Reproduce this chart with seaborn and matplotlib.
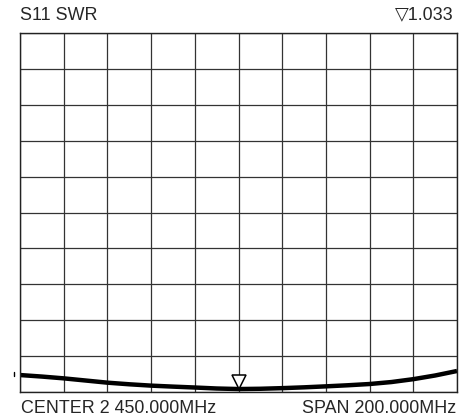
import numpy as np
import pandas as pd
import matplotlib
matplotlib.use("Agg")
import matplotlib.pyplot as plt
import matplotlib.transforms as mtransforms
import seaborn as sns

freq_mhz = [2350, 2360, 2370, 2380, 2390, 2400, 2410, 2420, 2430, 2440, 2450,
            2460, 2470, 2480, 2490, 2500, 2510, 2520, 2530, 2540, 2550]
swr = [1.189, 1.172, 1.152, 1.128, 1.104, 1.086, 1.071, 1.060, 1.050, 1.039, 1.033,
       1.036, 1.043, 1.052, 1.063, 1.075, 1.089, 1.111, 1.143, 1.184, 1.234]
marker_freq = 2450
marker_swr = 1.033
ref_level = 1.2

center_mhz = 2450
span_mhz = 200
y_min, y_max = 1.0, 5.0

sns.set_style("white")
plt.rcParams['font.family'] = ['Liberation Sans', 'DejaVu Sans']

df = pd.DataFrame({'freq': freq_mhz, 'swr': swr})

fig = plt.figure(figsize=(4.69, 4.20), dpi=100)
ax = fig.add_axes([20 / 469, 28 / 420, 437 / 469, 359 / 420])

sns.lineplot(data=df, x='freq', y='swr', ax=ax, color='black', linewidth=3.2,
             solid_capstyle='butt')

x0 = center_mhz - span_mhz / 2
x1 = center_mhz + span_mhz / 2
ax.set_xlim(x0, x1)
ax.set_ylim(y_min, y_max)
ax.set_xticks(np.linspace(x0, x1, 11))
ax.set_yticks(np.linspace(y_min, y_max, 11))
ax.tick_params(length=0, labelbottom=False, labelleft=False)
ax.set_xlabel('')
ax.set_ylabel('')
ax.grid(True, color='#333333', linewidth=0.9)
for s in ax.spines.values():
    s.set_color('#222222')
    s.set_linewidth(1.0)

# marker triangle sitting on the trace
off = mtransforms.ScaledTranslation(0, 6.8 / 100, fig.dpi_scale_trans)
ax.plot([marker_freq], [marker_swr], marker='v', markersize=10.5,
        markerfacecolor='white', markeredgecolor='black', markeredgewidth=1.1,
        transform=ax.transData + off, zorder=5, clip_on=False)

# reference level tick left of the grid
trans = mtransforms.blended_transform_factory(ax.transAxes, ax.transData)
ax.plot([-0.0137, -0.0137], [ref_level - 0.02, ref_level + 0.025], color='black',
        linewidth=1.0, transform=trans, clip_on=False)

fs = 12.9
fig.text(20 / 469, 1 - 15 / 420, 'S11 SWR', fontsize=fs, ha='left', va='center')
fig.text(454 / 469, 1 - 15 / 420, '\u25bd' + f'{marker_swr:.3f}', fontsize=fs,
         ha='right', va='center')
fig.text(21 / 469, 1 - 408.5 / 420, 'CENTER 2 450.000MHz',
         fontsize=fs, ha='left', va='center')
fig.text(456 / 469, 1 - 408.5 / 420, f'SPAN {span_mhz:.3f}MHz', fontsize=fs,
         ha='right', va='center')

fig.savefig('out.png', dpi=100)
